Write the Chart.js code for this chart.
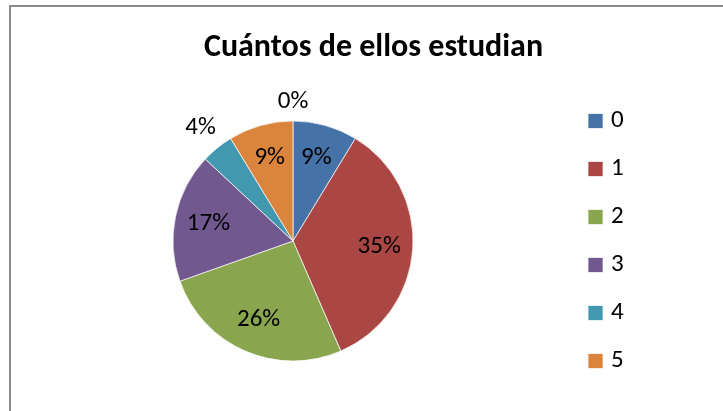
<!DOCTYPE html>
<html>
<head>
<meta charset="utf-8">
<script src="https://cdn.jsdelivr.net/npm/chart.js@4/dist/chart.umd.min.js"></script>
<style>
  html, body { margin: 0; padding: 0; background: #fff; overflow: hidden; }
  #wrap { position: relative; width: 723px; height: 411px; }
  #frame { position: absolute; left: 9px; top: 5px; width: 800px; height: 500px;
           border-left: 2px solid #8a8a8a; border-top: 2px solid #8a8a8a; }
  canvas { position: absolute; left: 0; top: 0; }
</style>
</head>
<body>
<div id="wrap">
  <div id="frame"></div>
  <canvas id="pie" width="723" height="411"></canvas>
</div>
<script>
const title = 'Cuántos de ellos estudian';
const categories = ['0', '1', '2', '3', '4', '5', '6'];
const counts = [2, 8, 6, 4, 1, 2, 0];
const colors = ['#4572A7', '#AA4643', '#89A54E', '#71588F', '#4198AF', '#DB843D', '#93A9CF'];
const legendCount = 6; // only 0..5 fit in the frame

const FONT = 'Carlito, Lato, sans-serif';

// percent labels, pushed outside for thin slices
const pctLabels = {
  id: 'pctLabels',
  afterDatasetsDraw(chart) {
    const ctx = chart.ctx;
    const meta = chart.getDatasetMeta(0);
    const data = chart.data.datasets[0].data;
    const total = data.reduce((a, b) => a + b, 0);
    ctx.save();
    ctx.font = '25px ' + FONT;
    ctx.fillStyle = '#000';
    ctx.textAlign = 'center';
    ctx.textBaseline = 'middle';
    meta.data.forEach((arc, i) => {
      const { x, y, startAngle, endAngle, outerRadius } = arc.getProps(['x', 'y', 'startAngle', 'endAngle', 'outerRadius'], true);
      const pct = Math.round(data[i] / total * 100);
      const txt = pct + '%';
      const mid = (startAngle + endAngle) / 2;
      const dx = Math.cos(mid), dy = Math.sin(mid);
      let r;
      if (pct < 5) {
        const w = ctx.measureText(txt).width, h = 20;
        r = outerRadius + 9 + Math.abs(dx) * w / 2 + Math.abs(dy) * h / 2;
      } else {
        r = outerRadius * 0.72;
      }
      ctx.fillText(txt, x + dx * r, y + dy * r);
    });
    ctx.restore();
  }
};

// title is centred on the whole frame, not only left of the legend
const titleShift = {
  id: 'titleShift',
  afterLayout(chart) {
    const t = chart.titleBlock;
    if (!t) return;
    t.left = 24;
    t.right = 723;
    t.width = t.right - t.left;
  }
};

new Chart(document.getElementById('pie'), {
  type: 'pie',
  data: {
    labels: categories,
    datasets: [{
      data: counts,
      backgroundColor: colors,
      borderColor: 'rgba(255,255,255,0.7)',
      borderWidth: 1
    }]
  },
  options: {
    responsive: false,
    animation: false,
    radius: 120,
    layout: { padding: { left: 16.5, right: 89.3, top: 0, bottom: 0 } },
    plugins: {
      title: {
        display: true,
        text: title,
        color: '#000',
        font: { family: FONT, size: 32, weight: 'bold', lineHeight: 1.2 },
        padding: { top: 28.3, bottom: 4.3 }
      },
      legend: {
        position: 'right',
        fullSize: false,
        labels: {
          usePointStyle: true,
          pointStyle: 'rect',
          boxWidth: 6,
          boxHeight: 15,
          padding: 23,
          color: '#000',
          font: { family: FONT, size: 25 },
          filter: (item) => item.index < legendCount
        }
      },
      tooltip: { enabled: false }
    }
  },
  plugins: [pctLabels, titleShift]
});
</script>
</body>
</html>
